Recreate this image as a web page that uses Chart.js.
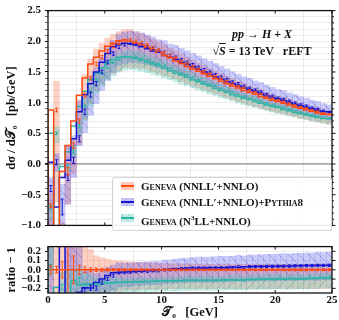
<!DOCTYPE html>
<html>
<head>
<meta charset="utf-8">
<script src="https://cdn.jsdelivr.net/npm/chart.js@4.4.1/dist/chart.umd.min.js"></script>
<style>
  body { margin: 0; background: #fff; }
  #wrap { position: relative; width: 339px; height: 320px; overflow: hidden; }
  #wrap canvas { position: absolute; left: 0; }
  #cMain { top: 0; }
  #cRatio { top: 236px; }
  .txt { position: absolute; font-family: 'Liberation Serif', 'DejaVu Serif', serif; font-weight: bold; color: #111; white-space: nowrap; }
  #proc { left: 192px; width: 140px; top: 27px; font-size: 12px; text-align: center; }
  #energy { left: 192px; width: 140px; top: 44px; font-size: 12px; text-align: center; }
  #legend { left: 112px; top: 177px; width: 218px; height: 52px; border: 1px solid #d4d4d4; border-radius: 3px; background: rgba(255,255,255,0.92); font-size: 11px; }
  .row { position: absolute; left: 8px; height: 14px; line-height: 14px; }
  .sw { position: absolute; left: 0; top: 3px; width: 13px; height: 8px; }
  .sw i { position: absolute; left: 0; right: 0; top: 3px; height: 2px; }
  .lbl { position: absolute; left: 20px; top: 0; }
  .sc { font-variant: small-caps; }
</style>
</head>
<body>
<div id="wrap">
  <canvas id="cMain" width="339" height="236"></canvas>
  <canvas id="cRatio" width="339" height="84"></canvas>
  <div class="txt" id="proc"><i>pp</i> &rarr; <i>H</i> + <i>X</i></div>
  <div class="txt" id="energy">&radic;<span style="text-decoration:overline"><i>S</i></span> = 13&thinsp;TeV&nbsp;&nbsp;&nbsp;rEFT</div>
  <div class="txt" id="legend">
    <div class="row" style="top:1px"><span class="sw" style="background:rgba(250,100,60,0.35)"><i style="background:#ff4a10"></i></span><span class="lbl"><span class="sc">Geneva</span> (NNLL&prime;+NNLO)</span></div>
    <div class="row" style="top:17px"><span class="sw" style="background:repeating-linear-gradient(-45deg,rgba(40,40,200,0.4) 0 1px,rgba(60,60,230,0.3) 1px 5px)"><i style="background:#1414d2"></i></span><span class="lbl"><span class="sc">Geneva</span> (NNLL&prime;+NNLO)+<span class="sc">Pythia</span>8</span></div>
    <div class="row" style="top:33px"><span class="sw" style="background:repeating-linear-gradient(45deg,rgba(30,160,150,0.45) 0 1px,rgba(60,195,185,0.3) 1px 5px)"><i style="background:#2fb5a6"></i></span><span class="lbl"><span class="sc">Geneva</span> (N<sup style="font-size:7px">3</sup>LL+NNLO)</span></div>
  </div>
</div>
<script>
// ===== Geneva T0 spectrum: NNLL'+NNLO vs +Pythia8 vs N3LL+NNLO =====
const BIN_WIDTH = 0.5;
const X_MIN = 0, X_MAX = 25;
const RATIO_TICKS = [-0.2, -0.1, 0.0, 0.1, 0.2];

// central values per 0.5 GeV bin [pb/GeV]
const ORANGE = [-0.68, 0.88, -1.60, -0.12, 0.30, 0.70, 1.12, 1.40, 1.63, 1.74,
  1.84, 1.92, 1.97, 2.01, 2.02, 2.00, 1.97, 1.94, 1.90, 1.86,
  1.82, 1.77, 1.73, 1.68, 1.64, 1.59, 1.55, 1.51, 1.47, 1.43,
  1.39, 1.35, 1.31, 1.27, 1.24, 1.20, 1.17, 1.14, 1.10, 1.07,
  1.04, 1.02, 0.99, 0.96, 0.93, 0.91, 0.88, 0.86, 0.83, 0.81];
const BLUE = [-0.40, 0.03, -0.70, -0.22, 0.06, 0.41, 0.85, 1.13, 1.31, 1.50,
  1.66, 1.80, 1.91, 1.95, 1.97, 1.96, 1.94, 1.91, 1.88, 1.84,
  1.82, 1.77, 1.74, 1.70, 1.66, 1.62, 1.58, 1.54, 1.50, 1.46,
  1.42, 1.38, 1.34, 1.31, 1.27, 1.24, 1.21, 1.18, 1.14, 1.11,
  1.08, 1.06, 1.03, 1.00, 0.97, 0.95, 0.92, 0.90, 0.87, 0.85];
const TEAL = [-0.70, 0.50, -1.30, -0.04, 0.20, 0.62, 0.94, 1.18, 1.38, 1.48,
  1.57, 1.65, 1.70, 1.74, 1.75, 1.74, 1.72, 1.69, 1.66, 1.63,
  1.60, 1.56, 1.52, 1.48, 1.45, 1.41, 1.37, 1.34, 1.30, 1.27,
  1.23, 1.20, 1.17, 1.13, 1.10, 1.07, 1.05, 1.02, 0.99, 0.96,
  0.94, 0.92, 0.89, 0.87, 0.84, 0.82, 0.80, 0.78, 0.76, 0.74];

// uncertainty bands, fraction of |central| (up / down)
const ORANGE_UP = [0.30, 0.53, 0.40, 3.50, 0.30, 0.50, 0.30, 0.22, 0.15, 0.13,
  0.115, 0.10, 0.095, 0.09, 0.085, 0.08, 0.078, 0.075, 0.072, 0.07,
  0.068, 0.066, 0.065, 0.064, 0.063, 0.062, 0.062, 0.061, 0.060, 0.060,
  0.061, 0.060, 0.059, 0.060, 0.060, 0.059, 0.060, 0.061, 0.060, 0.059,
  0.060, 0.060, 0.061, 0.060, 0.059, 0.060, 0.060, 0.061, 0.060, 0.060];
const ORANGE_DN = [0.60, 1.70, 0.40, 4.40, 1.50, 0.55, 0.35, 0.30, 0.27, 0.25,
  0.24, 0.23, 0.23, 0.22, 0.22, 0.22, 0.21, 0.21, 0.21, 0.21,
  0.21, 0.20, 0.20, 0.20, 0.20, 0.20, 0.20, 0.20, 0.20, 0.20,
  0.20, 0.20, 0.20, 0.20, 0.20, 0.20, 0.20, 0.20, 0.20, 0.20,
  0.20, 0.20, 0.20, 0.20, 0.20, 0.20, 0.20, 0.20, 0.20, 0.20];
const BLUE_UP = [0.45, 4.70, 0.53, 2.40, 6.70, 1.50, 0.30, 0.25, 0.20, 0.16,
  0.14, 0.12, 0.11, 0.105, 0.10, 0.10, 0.10, 0.10, 0.10, 0.10,
  0.105, 0.105, 0.11, 0.11, 0.11, 0.11, 0.115, 0.115, 0.115, 0.12,
  0.12, 0.12, 0.12, 0.12, 0.12, 0.125, 0.12, 0.125, 0.125, 0.125,
  0.125, 0.13, 0.125, 0.13, 0.13, 0.13, 0.13, 0.135, 0.13, 0.135];
const BLUE_DN = [1.50, 5.00, 0.45, 2.00, 4.70, 0.27, 0.40, 0.30, 0.25, 0.20,
  0.18, 0.17, 0.16, 0.16, 0.16, 0.155, 0.155, 0.15, 0.15, 0.15,
  0.15, 0.15, 0.15, 0.15, 0.15, 0.15, 0.15, 0.15, 0.15, 0.15,
  0.15, 0.15, 0.15, 0.15, 0.15, 0.15, 0.15, 0.15, 0.15, 0.15,
  0.15, 0.15, 0.15, 0.15, 0.15, 0.15, 0.15, 0.15, 0.15, 0.15];
const TEAL_UP = [0.09, 0.22, 0.20, 1.00, 0.50, 0.15, 0.15, 0.12, 0.08, 0.07,
  0.065, 0.06, 0.06, 0.055, 0.055, 0.05, 0.05, 0.05, 0.05, 0.05,
  0.05, 0.05, 0.05, 0.05, 0.05, 0.05, 0.05, 0.05, 0.05, 0.05,
  0.05, 0.05, 0.05, 0.05, 0.05, 0.05, 0.05, 0.05, 0.05, 0.05,
  0.05, 0.05, 0.05, 0.05, 0.05, 0.05, 0.05, 0.05, 0.05, 0.05];
const TEAL_DN = [0.30, 0.30, 0.20, 2.00, 0.50, 0.25, 0.25, 0.20, 0.16, 0.14,
  0.13, 0.13, 0.12, 0.12, 0.12, 0.12, 0.12, 0.12, 0.12, 0.12,
  0.12, 0.12, 0.12, 0.12, 0.12, 0.12, 0.12, 0.12, 0.12, 0.12,
  0.12, 0.12, 0.12, 0.12, 0.12, 0.12, 0.12, 0.12, 0.12, 0.12,
  0.12, 0.12, 0.12, 0.12, 0.12, 0.12, 0.12, 0.12, 0.12, 0.12];

// statistical errors (absolute, pb/GeV)
const ORANGE_ERR = [0.030, 0.030, 0.140, 0.060, 0.045, 0.035, 0.034, 0.030, 0.030, 0.028,
  0.026, 0.025, 0.024, 0.023, 0.022, 0.020, 0.020, 0.019, 0.018, 0.018,
  0.017, 0.016, 0.016, 0.015, 0.015, 0.014, 0.014, 0.013, 0.013, 0.012,
  0.012, 0.012, 0.011, 0.011, 0.011, 0.010, 0.010, 0.010, 0.010, 0.010,
  0.009, 0.009, 0.009, 0.009, 0.009, 0.008, 0.008, 0.008, 0.008, 0.008];
const BLUE_ERR = [0.050, 0.040, 0.130, 0.050, 0.050, 0.050, 0.045, 0.040, 0.035, 0.030,
  0.030, 0.028, 0.027, 0.026, 0.025, 0.024, 0.023, 0.022, 0.022, 0.021,
  0.020, 0.020, 0.019, 0.019, 0.018, 0.018, 0.017, 0.017, 0.016, 0.016,
  0.016, 0.015, 0.015, 0.015, 0.014, 0.014, 0.014, 0.013, 0.013, 0.013,
  0.012, 0.012, 0.012, 0.012, 0.011, 0.011, 0.011, 0.011, 0.010, 0.010];
const TEAL_ERR = [0.020, 0.020, 0.050, 0.020, 0.020, 0.020, 0.015, 0.012, 0.010, 0.010,
  0.009, 0.009, 0.009, 0.009, 0.008, 0.008, 0.008, 0.008, 0.008, 0.008,
  0.007, 0.007, 0.007, 0.007, 0.007, 0.007, 0.007, 0.007, 0.007, 0.007,
  0.006, 0.006, 0.006, 0.006, 0.006, 0.006, 0.006, 0.006, 0.006, 0.006,
  0.006, 0.005, 0.005, 0.005, 0.005, 0.005, 0.005, 0.005, 0.005, 0.005];

const FONT = 'Liberation Serif';
const edges = Array.from({ length: ORANGE.length + 1 }, (_, i) => X_MIN + i * BIN_WIDTH);
const centers = ORANGE.map((_, i) => edges[i] + BIN_WIDTH / 2);

function hatch(fill, line, dir) {
    const n = 10;
    const c = document.createElement('canvas');
    c.width = c.height = n;
    const g = c.getContext('2d');
    g.fillStyle = fill; g.fillRect(0, 0, n, n);
    g.strokeStyle = line; g.lineWidth = 0.8;
    g.beginPath();
    if (dir > 0) { g.moveTo(-1, n + 1); g.lineTo(n + 1, -1); }
    else { g.moveTo(-1, -1); g.lineTo(n + 1, n + 1); }
    g.stroke();
    return g.createPattern(c, 'repeat');
}

const SERIES = [
    { vals: ORANGE, up: ORANGE_UP, dn: ORANGE_DN, err: ORANGE_ERR, color: '#ff4a10', band: 'rgba(250,110,70,0.32)' },
    { vals: BLUE, up: BLUE_UP, dn: BLUE_DN, err: BLUE_ERR, color: '#1414d2', band: hatch('rgba(70,70,235,0.28)', 'rgba(40,40,190,0.32)', -1) },
    { vals: TEAL, up: TEAL_UP, dn: TEAL_DN, err: TEAL_ERR, color: '#2fb5a6', band: hatch('rgba(70,200,190,0.3)', 'rgba(30,160,150,0.38)', 1) },
];

const near = (v, step) => Math.abs(v / step - Math.round(v / step)) < 1e-6;
const tickLabel = v => (v < -1e-9 ? '\u2212' : '') + Math.abs(v).toFixed(1);

// error bars + frame, drawn from the chart's own scales
const errorBars = {
    id: 'errorBars',
    afterDatasetsDraw(chart, args, opts) {
        const { ctx, chartArea: a, scales: { x, y } } = chart;
        ctx.save();
        ctx.beginPath(); ctx.rect(a.left, a.top, a.right - a.left, a.bottom - a.top); ctx.clip();
        ctx.lineWidth = 1;
        opts.sets.slice().reverse().forEach(s => {
            ctx.strokeStyle = s.color;
            s.vals.forEach((v, i) => {
                const px = x.getPixelForValue(centers[i]);
                const y0 = y.getPixelForValue(v - s.err[i]), y1 = y.getPixelForValue(v + s.err[i]);
                ctx.beginPath();
                ctx.moveTo(px, y0); ctx.lineTo(px, y1);
                ctx.moveTo(px - 1.5, y0); ctx.lineTo(px + 1.5, y0);
                ctx.moveTo(px - 1.5, y1); ctx.lineTo(px + 1.5, y1);
                ctx.stroke();
            });
        });
        ctx.restore();
    }
};

const frame = {
    id: 'frame',
    afterDraw(chart) {
        const { ctx, chartArea: a, scales: { x, y } } = chart;
        ctx.save();
        ctx.strokeStyle = '#111'; ctx.lineWidth = 1;
        ctx.beginPath();
        x.ticks.forEach(t => {
            const px = x.getPixelForValue(t.value);
            ctx.moveTo(px, a.top); ctx.lineTo(px, a.top + 3);
            ctx.moveTo(px, a.bottom); ctx.lineTo(px, a.bottom - 3);
        });
        y.ticks.forEach(t => {
            const py = y.getPixelForValue(t.value);
            ctx.moveTo(a.right, py); ctx.lineTo(a.right + (t.label ? 3.5 : 2), py);
        });
        ctx.stroke();
        ctx.lineWidth = 1.3;
        ctx.strokeRect(a.left, a.top, a.right - a.left, a.bottom - a.top);
        ctx.restore();
    }
};

function histLine(vals, color, order) {
    return { type: 'line', data: edges.map((e, i) => ({ x: e, y: vals[Math.min(i, vals.length - 1)] })),
        stepped: 'after', borderColor: color, borderWidth: 1.5, pointRadius: 0, fill: false, order };
}
function bandBars(lo, hi, bg, order) {
    return { type: 'bar', data: centers.map((c, i) => ({ x: c, y: [lo[i], hi[i]] })),
        backgroundColor: bg, borderWidth: 0, grouped: false, barPercentage: 1, categoryPercentage: 1, order };
}

const lowOf = s => s.vals.map((v, i) => v - s.dn[i] * Math.abs(v));
const highOf = s => s.vals.map((v, i) => v + s.up[i] * Math.abs(v));

const axisFont = { family: FONT, weight: 'bold', size: 11 };
const titleFont = { family: FONT, weight: 'bold', size: 12.5 };
const gridCol = 'rgba(0,0,0,0.07)';

// 1. main spectrum
new Chart(document.getElementById('cMain').getContext('2d'), {
    type: 'bar',
    data: { datasets: [
        ...SERIES.map((s, k) => histLine(s.vals, s.color, k + 1)),
        ...SERIES.map((s, k) => bandBars(lowOf(s), highOf(s), s.band, 12 - k)),
    ] },
    options: { responsive: false, animation: false, events: [],
        layout: { padding: { left: 0, right: 7, top: 10, bottom: 3 } },
        scales: {
            x: { type: 'linear', min: X_MIN, max: X_MAX, offset: false,
                ticks: { stepSize: 5, display: false }, grid: { color: gridCol, drawTicks: false }, border: { display: false },
                afterFit: s => { s.height = 0; } },
            y: { min: -1, max: 2.5, afterFit: s => { s.width = 48; },
                ticks: { stepSize: 0.1, autoSkip: false, padding: 4, color: '#111', font: axisFont, callback: v => near(v, 0.5) ? tickLabel(v) : '' },
                grid: { color: c => Math.abs(c.tick.value) < 1e-9 ? '#a8a8a8' : gridCol, lineWidth: c => Math.abs(c.tick.value) < 1e-9 ? 1.8 : 1,
                    tickLength: 3, tickColor: c => near(c.tick.value, 0.5) ? '#111' : '#666' },
                border: { display: false },
                title: { display: true, text: 'd\u03c3 / d\ud835\udcaf\u2080   [pb/GeV]', color: '#111', font: titleFont, padding: { top: 4, bottom: 0 } } }
        },
        plugins: { legend: { display: false }, tooltip: { enabled: false }, errorBars: { sets: SERIES } }
    },
    plugins: [errorBars, frame]
});

// 2. ratio to NNLL'+NNLO
const rel = arr => arr.map((v, i) => v / ORANGE[i] - 1);
const RATIO_SETS = SERIES.map(s => ({ vals: rel(s.vals), err: s.err.map((e, i) => e / Math.abs(ORANGE[i])), color: s.color }));

new Chart(document.getElementById('cRatio').getContext('2d'), {
    type: 'bar',
    data: { datasets: [
        ...SERIES.map((s, k) => histLine(rel(s.vals), s.color, k + 1)),
        ...SERIES.map((s, k) => bandBars(rel(lowOf(s)), rel(highOf(s)), s.band, 12 - k)),
    ] },
    options: { responsive: false, animation: false, events: [],
        layout: { padding: { left: 0, right: 7, top: 1, bottom: 0 } },
        scales: {
            x: { type: 'linear', min: X_MIN, max: X_MAX, offset: false,
                ticks: { stepSize: 5, padding: 1, color: '#111', font: axisFont, callback: v => String(v) },
                grid: { color: gridCol, drawTicks: false }, border: { display: false },
                title: { display: true, text: '\ud835\udcaf\u2080   [GeV]', color: '#111', font: titleFont, padding: { top: 0, bottom: 0 } },
                afterFit: s => { s.height = 27; } },
            y: { min: -0.25, max: 0.25, afterFit: s => { s.width = 48; },
                afterBuildTicks: s => { s.ticks = RATIO_TICKS.map(v => ({ value: v })); },
                ticks: { autoSkip: false, padding: 4, color: '#111', font: axisFont, callback: v => tickLabel(v) },
                grid: { color: gridCol, tickLength: 3, tickColor: '#111' }, border: { display: false },
                title: { display: true, text: 'ratio \u2212 1', color: '#111', font: titleFont, padding: { top: 4, bottom: 0 } } }
        },
        plugins: { legend: { display: false }, tooltip: { enabled: false }, errorBars: { sets: RATIO_SETS } }
    },
    plugins: [errorBars, frame]
});
</script>
</body>
</html>
